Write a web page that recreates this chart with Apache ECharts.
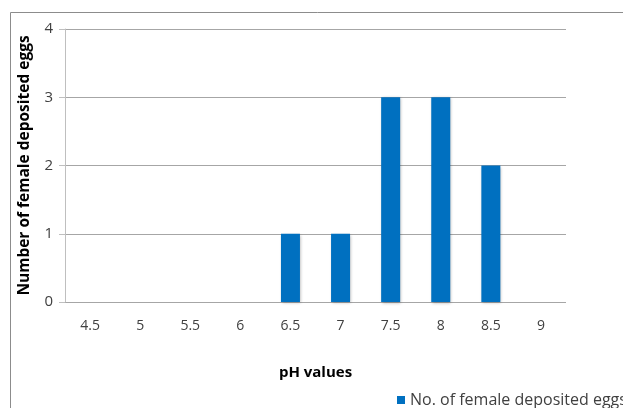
<!DOCTYPE html>
<html><head><meta charset="utf-8">
<script src="https://cdn.jsdelivr.net/npm/echarts@6/dist/echarts.min.js"></script>
<style>html,body{margin:0;padding:0;background:#fff;overflow:hidden}#c{width:623px;height:408px}</style>
</head><body><div id="c"></div>
<script>
var categories = ['4.5','5','5.5','6','6.5','7','7.5','8','8.5','9'];
var values = [0,0,0,0,1,1,3,3,2,0];
var seriesName = 'No. of female deposited eggs';
var chart = echarts.init(document.getElementById('c'));
var font = 'Open Sans, Liberation Sans, sans-serif';
chart.setOption({
  animation:false,
  graphic:[{type:'rect',shape:{x:10.5,y:12.5,width:700,height:500},style:{fill:'none',stroke:'#8c8c8c',lineWidth:1},silent:true}],
  grid:{left:65,right:57,top:29,bottom:106},
  legend:{show:true,left:392,top:387,itemWidth:8,itemHeight:8,itemGap:7,icon:'rect',
    textStyle:{fontFamily:font,fontSize:16,color:'#404040'},data:[seriesName]},
  xAxis:{type:'category',data:categories,
    name:'pH values',nameLocation:'middle',nameGap:63,
    nameTextStyle:{fontFamily:font,fontSize:15,fontWeight:'bold',color:'#000'},
    axisLine:{show:false},axisTick:{show:false},
    axisLabel:{fontFamily:font,fontSize:14,color:'#404040',margin:17}},
  yAxis:{type:'value',min:0,max:4,interval:1,
    name:'Number of female deposited eggs',nameLocation:'middle',nameGap:32,
    nameTextStyle:{fontFamily:font,fontSize:15.5,fontWeight:'bold',color:'#000'},
    axisLine:{show:true,lineStyle:{color:'#bfbfbf'}},
    axisTick:{show:true,length:6,lineStyle:{color:'#bfbfbf'}},
    splitLine:{lineStyle:{color:'#a6a6a6'}},
    axisLabel:{fontFamily:font,fontSize:15,color:'#404040',margin:12}},
  series:[{name:seriesName,type:'bar',data:values,barWidth:19,
    itemStyle:{color:'#0070C0',shadowColor:'rgba(0,0,0,0.3)',shadowBlur:3,shadowOffsetX:1,shadowOffsetY:1}}]
});
</script></body></html>
